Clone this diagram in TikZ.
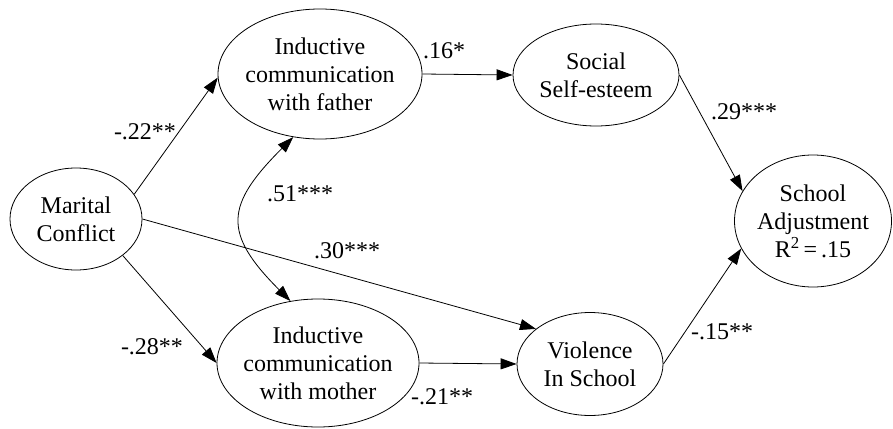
\documentclass[tikz,border=0pt]{standalone}
\usepackage{fontspec}
\setmainfont{Liberation Serif}
\usetikzlibrary{arrows.meta,shapes.geometric}
\begin{document}
\begin{tikzpicture}[x=1pt,y=-1pt,
  var/.style={draw,ellipse,line width=0.8pt,inner sep=0pt},
  vtext/.style={align=center,inner sep=0pt,font=\fontsize{24}{28}\selectfont},
  coef/.style={inner sep=0pt,font=\fontsize{24}{28}\selectfont},
  tip/.style={Triangle[length=16pt,width=11pt]},
  path/.style={line width=0.8pt,-{Triangle[length=16pt,width=11pt]}},
  corr/.style={line width=0.8pt,{Triangle[length=16pt,width=11pt]}-{Triangle[length=16pt,width=11pt]}}]
\useasboundingbox (0,0) rectangle (893,428);

% latent variables
\node[var,minimum width=132pt,minimum height=102pt] (MC) at (76,219) {};
\node[var,minimum width=204pt,minimum height=130pt] (F) at (320,74) {};
\node[var,minimum width=166pt,minimum height=102pt] (S) at (596,75) {};
\node[var,minimum width=157pt,minimum height=132pt] (SA) at (813,221) {};
\node[var,minimum width=202pt,minimum height=128pt] (M) at (318,363) {};
\node[var,minimum width=146pt,minimum height=103pt] (V) at (590,364) {};

% variable names
\node[vtext] (MCt) at (MC) {Marital\\Conflict};
\node[vtext] (Ft) at (F) {Inductive\\communication\\with father};
\node[vtext] (St) at (S) {Social\\Self-esteem};
\node[vtext] (SAt) at (SA) {School\\Adjustment\\R\textsuperscript{2}\,=\,.15};
\node[vtext] (Mt) at (M) {Inductive\\communication\\with mother};
\node[vtext] (Vt) at (V) {Violence\\In School};

% structural paths
\draw[path] (MC.23) -- (F.182);
\draw[path] (MC.322) -- (M.west);
\draw[path] (MC.east) -- (V.147);
\draw[path] (F.east) -- (S.west);
\draw[path] (S.east) -- (SA.157);
\draw[path] (M.east) -- (V.west);
\draw[path] (V.east) -- (SA.201);
\draw[corr] (F.247) to[out=225,in=135,looseness=1.5] (M.114);

% path coefficients
\node[coef] (c1) at (145,132) {-.22**};
\node[coef] (c2) at (444,51) {.16*};
\node[coef] (c3) at (744,112) {.29***};
\node[coef] (c4) at (300,194) {.51***};
\node[coef] (c5) at (347,251) {.30***};
\node[coef] (c6) at (152,347) {-.28**};
\node[coef] (c7) at (442,397) {-.21**};
\node[coef] (c8) at (722,332) {-.15**};
\end{tikzpicture}
\end{document}
